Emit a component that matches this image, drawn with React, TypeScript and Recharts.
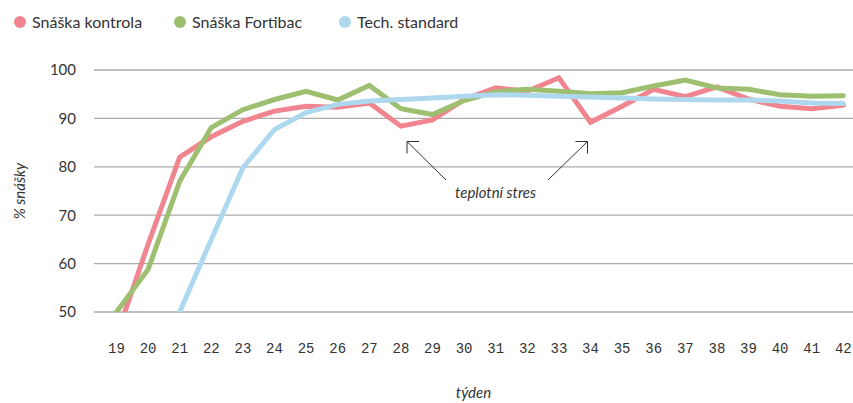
import { CartesianGrid, Line, LineChart, XAxis, YAxis } from 'recharts'

const weeks = [
  '19', '20', '21', '22', '23', '24', '25', '26', '27', '28', '29', '30',
  '31', '32', '33', '34', '35', '36', '37', '38', '39', '40', '41', '42',
]
const kontrola = [
  45, 64, 82, 86.2, 89.4, 91.5, 92.5, 92.3, 93.2, 88.4, 89.7, 93.9,
  96.3, 95.6, 98.4, 89.2, 92.5, 96.0, 94.5, 96.5, 94.0, 92.5, 92.0, 92.7,
]
const fortibac = [
  50, 58.8, 77, 88.1, 91.8, 93.9, 95.6, 93.8, 96.8, 92.0, 90.8, 93.7,
  95.5, 96.0, 95.6, 95.1, 95.3, 96.7, 97.9, 96.3, 96.0, 94.9, 94.6, 94.7,
]
const standard = [
  null, null, 50, 65, 79.8, 87.7, 91.2, 92.9, 93.6, 93.9, 94.2, 94.6,
  94.9, 94.8, 94.6, 94.4, 94.2, 94.0, 93.9, 93.8, 93.8, 93.6, 93.2, 93.1,
]
const yTicks = [50, 60, 70, 80, 90, 100]

const series = [
  { key: 'kontrola', name: 'Snáška kontrola', color: '#f0848f' },
  { key: 'fortibac', name: 'Snáška Fortibac', color: '#9dbf6f' },
  { key: 'standard', name: 'Tech. standard', color: '#aed8ee' },
]

const data = weeks.map((week, i) => ({
  week,
  kontrola: kontrola[i],
  fortibac: fortibac[i],
  standard: standard[i],
}))

const legendLeft = [14, 174, 339]
const textColor = '#333'

const App = (): JSX.Element => {
  return (
    <div
      style={{
        position: 'absolute',
        left: 0,
        top: 0,
        width: 853,
        height: 403,
        fontFamily: 'Lato',
        color: textColor,
      }}
    >
      {series.map((s, i) => (
        <div
          key={s.key}
          style={{
            position: 'absolute',
            left: legendLeft[i],
            top: 12,
            display: 'flex',
            alignItems: 'center',
            fontSize: 16,
            whiteSpace: 'nowrap',
          }}
        >
          <span
            style={{
              width: 12,
              height: 12,
              borderRadius: 6,
              background: s.color,
              marginRight: 6,
            }}
          />
          {s.name}
        </div>
      ))}

      <LineChart
        width={853}
        height={403}
        data={data}
        margin={{ top: 70, right: 0, left: 0, bottom: 0 }}
        style={{ position: 'absolute', left: 0, top: 0, fontFamily: 'Lato' }}
      >
        <CartesianGrid vertical={false} stroke="#ababab" strokeWidth={1.3} />
        <XAxis
          dataKey="week"
          height={91}
          axisLine={false}
          tickLine={false}
          tickSize={0}
          tickMargin={31}
          padding={{ left: 22.5, right: 9.7 }}
          interval={0}
          tick={{ fontFamily: 'Liberation Mono', fontSize: 14, fill: textColor }}
          label={{
            value: 'týden',
            position: 'insideBottom',
            offset: 5,
            style: { fontStyle: 'italic', fontSize: 15, fill: textColor },
          }}
        />
        <YAxis
          width={94}
          domain={[50, 100]}
          ticks={yTicks}
          allowDataOverflow
          axisLine={false}
          tickLine={false}
          tickSize={0}
          tickMargin={18}
          tick={{ fontFamily: 'Lato', fontSize: 15, fill: textColor }}
          label={{
            value: '% snášky',
            angle: -90,
            position: 'insideLeft',
            offset: 20,
            style: {
              textAnchor: 'middle',
              fontStyle: 'italic',
              fontSize: 15,
              fill: textColor,
            },
          }}
        />
        {series.map((s) => (
          <Line
            key={s.key}
            type="linear"
            dataKey={s.key}
            name={s.name}
            stroke={s.color}
            strokeWidth={5}
            strokeLinecap="round"
            dot={false}
            activeDot={false}
            connectNulls={false}
            isAnimationActive={false}
          />
        ))}
      </LineChart>

      {/* annotation: arrows pointing at the two dips */}
      <svg
        width={853}
        height={403}
        style={{ position: 'absolute', left: 0, top: 0, pointerEvents: 'none' }}
      >
        <g stroke={textColor} strokeWidth={1} fill="none">
          <line x1={446} y1={180} x2={407} y2={141.5} />
          <polyline points="419,141.5 407,141.5 407,153.5" />
          <line x1={548} y1={180} x2={587.5} y2={141.5} />
          <polyline points="575.5,141.5 587.5,141.5 587.5,153.5" />
        </g>
        <text
          x={495.5}
          y={198}
          textAnchor="middle"
          fontFamily="Lato"
          fontStyle="italic"
          fontSize={15}
          fill={textColor}
        >
          teplotní stres
        </text>
      </svg>
    </div>
  )
}

export default App
